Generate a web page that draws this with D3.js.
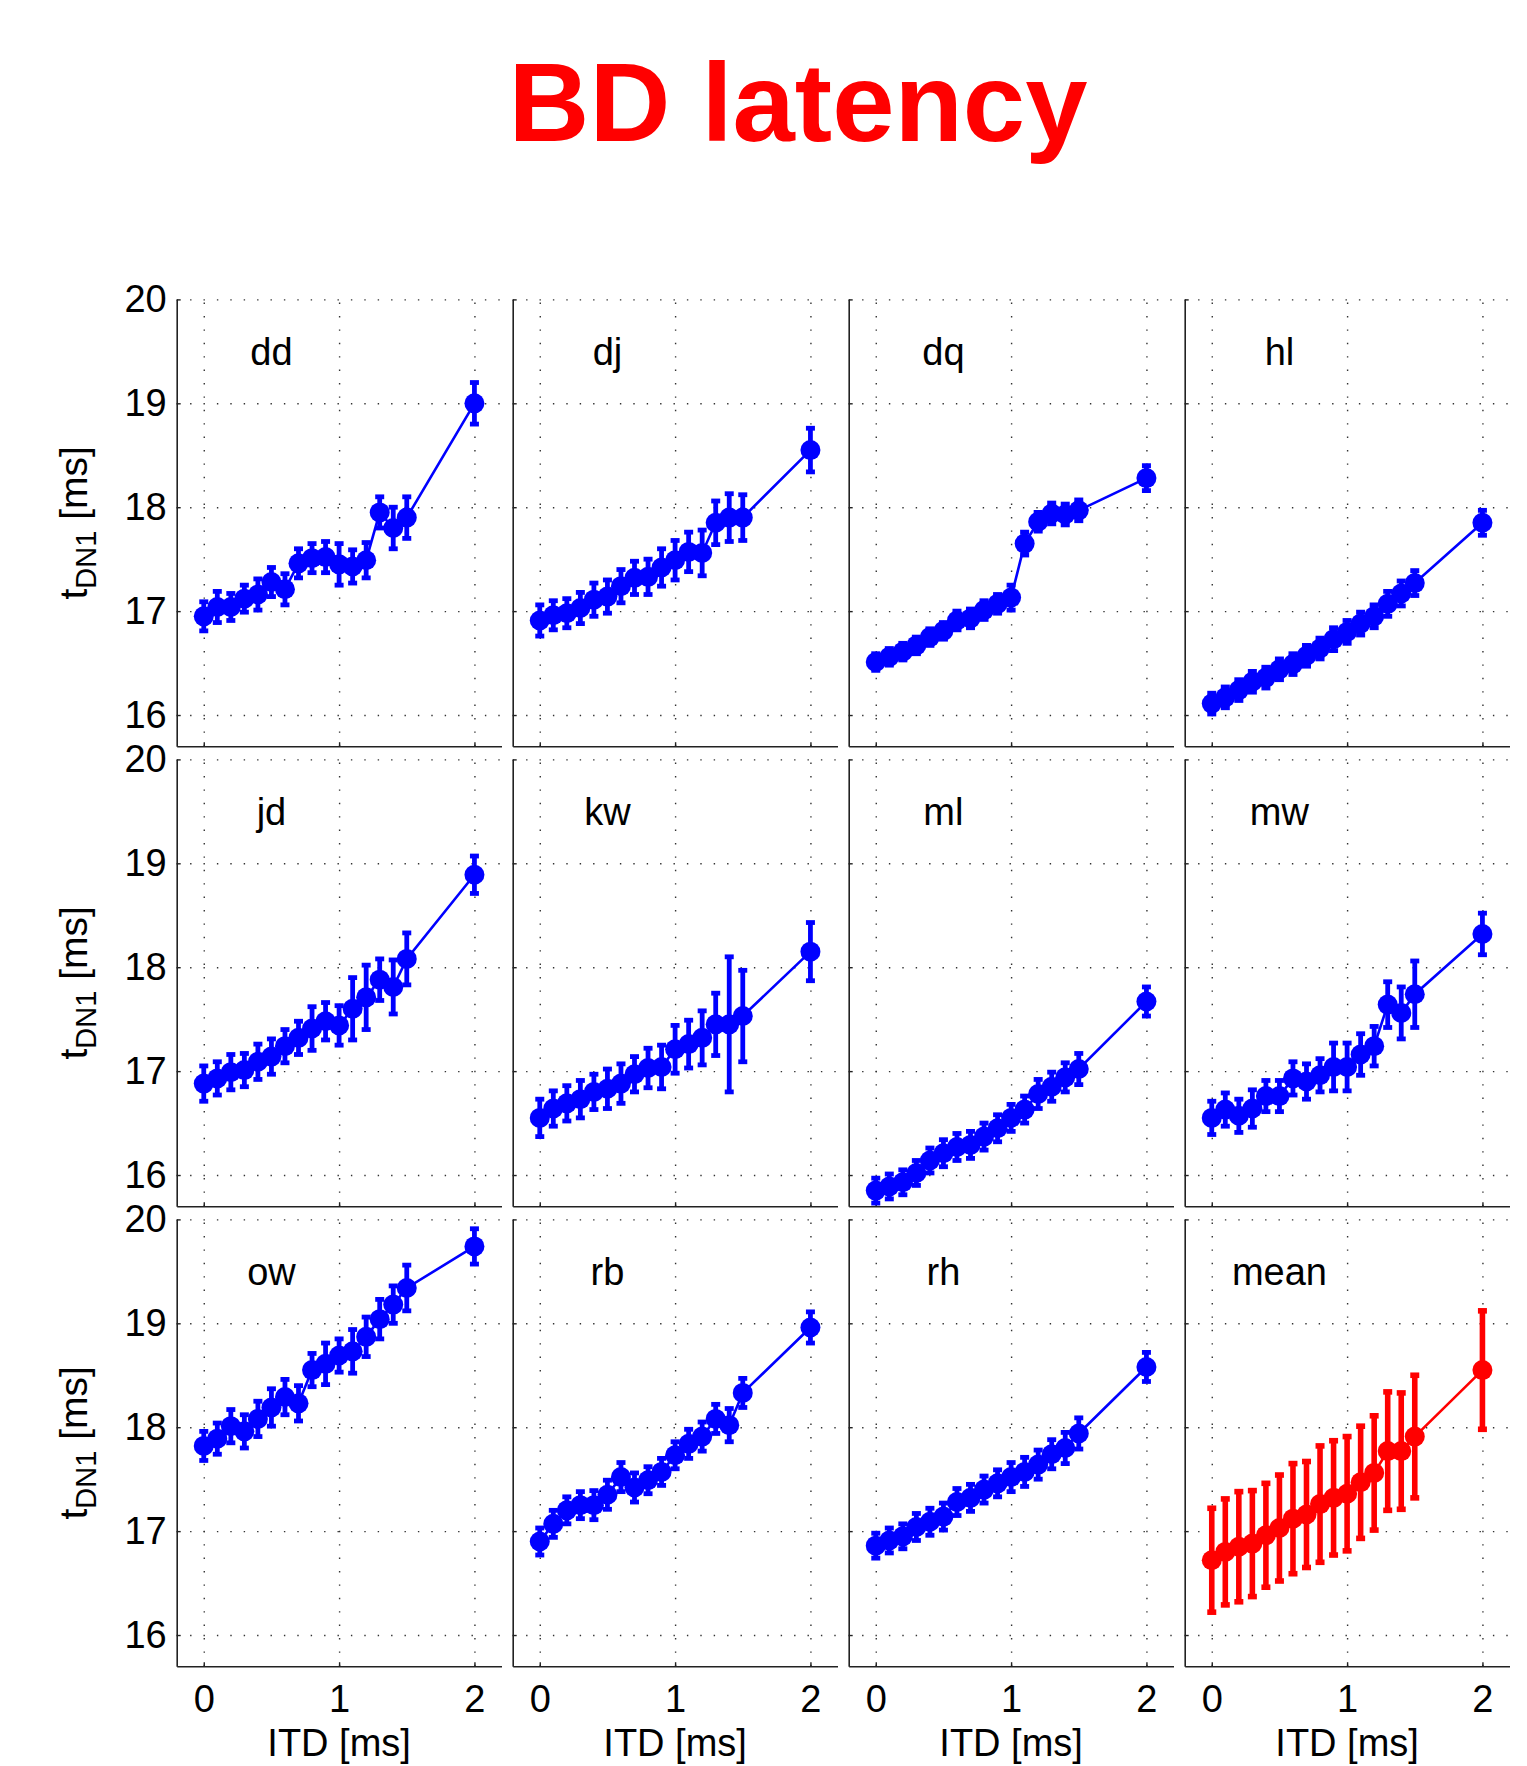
<!DOCTYPE html>
<html>
<head>
<meta charset="utf-8">
<script src="https://cdn.jsdelivr.net/npm/d3@7"></script>
<style>
body { margin: 0; background: #fff; }
text { font-family: "Liberation Sans", Arial, Helvetica, sans-serif; }
</style>
</head>
<body>
<svg id="fig" width="1527" height="1766"></svg>
<script>
// ITD values (ms)
var itd = [0, 0.1, 0.2, 0.3, 0.4, 0.5, 0.6, 0.7, 0.8, 0.9, 1.0, 1.1, 1.2, 1.3, 1.4, 1.5, 2.0];

var subjects = ["dd", "dj", "dq", "hl", "jd", "kw", "ml", "mw", "ow", "rb", "rh", "mean"];

var xTicks = [0, 1, 2];
var yTicks = [16, 17, 18, 19, 20];

// latency of DN1 (ms) and error bar half-length, one pair per subject
var dd = [16.95, 17.04, 17.04, 17.12, 17.16, 17.28, 17.21, 17.46, 17.51, 17.52, 17.45, 17.43, 17.49, 17.95, 17.80, 17.90, 19.00];
var dd_err = [0.14, 0.15, 0.13, 0.13, 0.15, 0.14, 0.15, 0.14, 0.14, 0.15, 0.20, 0.16, 0.17, 0.15, 0.20, 0.20, 0.20];

var dj = [16.91, 16.96, 16.98, 17.03, 17.11, 17.14, 17.24, 17.32, 17.33, 17.42, 17.49, 17.57, 17.56, 17.85, 17.90, 17.90, 18.55];
var dj_err = [0.15, 0.14, 0.14, 0.15, 0.16, 0.16, 0.16, 0.16, 0.17, 0.18, 0.19, 0.19, 0.22, 0.21, 0.23, 0.22, 0.21];

var dq = [16.51, 16.56, 16.61, 16.67, 16.75, 16.81, 16.91, 16.93, 17.01, 17.07, 17.13, 17.65, 17.86, 17.94, 17.93, 17.97, 18.28];
var dq_err = [0.08, 0.08, 0.08, 0.08, 0.08, 0.08, 0.09, 0.09, 0.09, 0.09, 0.12, 0.11, 0.09, 0.10, 0.10, 0.10, 0.12];

var hl = [16.11, 16.17, 16.24, 16.32, 16.36, 16.44, 16.49, 16.57, 16.64, 16.73, 16.80, 16.88, 16.95, 17.07, 17.17, 17.27, 17.85];
var hl_err = [0.10, 0.10, 0.10, 0.10, 0.10, 0.10, 0.10, 0.10, 0.10, 0.11, 0.11, 0.11, 0.11, 0.12, 0.12, 0.12, 0.12];

var jd = [16.88, 16.93, 16.99, 17.01, 17.09, 17.14, 17.24, 17.32, 17.41, 17.48, 17.44, 17.60, 17.71, 17.88, 17.81, 18.08, 18.89];
var jd_err = [0.17, 0.16, 0.17, 0.16, 0.17, 0.17, 0.16, 0.16, 0.21, 0.18, 0.19, 0.30, 0.31, 0.20, 0.26, 0.25, 0.18];

var kw = [16.55, 16.64, 16.69, 16.73, 16.80, 16.83, 16.88, 16.97, 17.03, 17.04, 17.21, 17.26, 17.32, 17.45, 17.45, 17.53, 18.15];
var kw_err = [0.18, 0.17, 0.17, 0.18, 0.17, 0.19, 0.19, 0.17, 0.19, 0.21, 0.23, 0.23, 0.26, 0.30, 0.65, 0.44, 0.28];

var ml = [15.85, 15.89, 15.93, 16.02, 16.14, 16.21, 16.27, 16.29, 16.37, 16.45, 16.55, 16.63, 16.78, 16.85, 16.94, 17.02, 17.67];
var ml_err = [0.12, 0.12, 0.12, 0.12, 0.12, 0.13, 0.13, 0.13, 0.13, 0.13, 0.13, 0.13, 0.14, 0.14, 0.14, 0.15, 0.14];

var mw = [16.55, 16.63, 16.57, 16.64, 16.76, 16.76, 16.93, 16.90, 16.96, 17.04, 17.04, 17.16, 17.24, 17.64, 17.56, 17.74, 18.32];
var mw_err = [0.16, 0.16, 0.16, 0.18, 0.15, 0.15, 0.16, 0.17, 0.16, 0.23, 0.23, 0.20, 0.19, 0.22, 0.25, 0.32, 0.20];

var ow = [17.82, 17.89, 18.01, 17.96, 18.08, 18.19, 18.29, 18.23, 18.55, 18.61, 18.69, 18.73, 18.87, 19.04, 19.18, 19.34, 19.74];
var ow_err = [0.14, 0.15, 0.16, 0.16, 0.17, 0.18, 0.17, 0.17, 0.16, 0.20, 0.16, 0.21, 0.19, 0.19, 0.18, 0.22, 0.17];

var rb = [16.90, 17.07, 17.20, 17.25, 17.25, 17.35, 17.52, 17.42, 17.49, 17.57, 17.73, 17.84, 17.91, 18.08, 18.02, 18.33, 18.96];
var rb_err = [0.13, 0.13, 0.13, 0.13, 0.14, 0.14, 0.14, 0.14, 0.13, 0.13, 0.13, 0.14, 0.14, 0.14, 0.16, 0.14, 0.15];

var rh = [16.86, 16.91, 16.95, 17.04, 17.09, 17.14, 17.28, 17.32, 17.40, 17.46, 17.52, 17.57, 17.64, 17.74, 17.80, 17.94, 18.58];
var rh_err = [0.12, 0.12, 0.12, 0.13, 0.13, 0.13, 0.13, 0.13, 0.13, 0.13, 0.14, 0.14, 0.14, 0.14, 0.15, 0.15, 0.14];

var grandMean = [16.72, 16.80, 16.85, 16.88, 16.96, 17.03, 17.12, 17.16, 17.26, 17.32, 17.36, 17.47, 17.56, 17.77, 17.77, 17.91, 18.55];
var grandMean_err = [0.50, 0.51, 0.53, 0.51, 0.50, 0.51, 0.53, 0.51, 0.56, 0.55, 0.55, 0.54, 0.55, 0.57, 0.56, 0.59, 0.57];

var values = [dd, dj, dq, hl, jd, kw, ml, mw, ow, rb, rh, grandMean];
var errors = [dd_err, dj_err, dq_err, hl_err, jd_err, kw_err, ml_err, mw_err, ow_err, rb_err, rh_err, grandMean_err];

var svg = d3.select("#fig"),
    layout = { left: 176.7, top: 299.4, dx: 336, dy: 460 },
    width = 324.8,
    height = 446.8,
    axisColor = "#222",
    fontSize = 38;

var x = d3.scaleLinear().domain([-0.2, 2.2]).range([0, width]),
    y = d3.scaleLinear().domain([15.7, 20]).range([height, 0]);

svg.append("rect")
    .attr("width", 1527)
    .attr("height", 1766)
    .attr("fill", "#fff");

svg.append("text")
    .attr("x", 798)
    .attr("y", 141)
    .attr("text-anchor", "middle")
    .attr("font-size", 112)
    .attr("font-weight", "bold")
    .attr("fill", "#ff0000")
    .text("BD latency");

var line = d3.line()
    .x(function(d) { return x(d[0]); })
    .y(function(d) { return y(d[1]); });

function drawPanel(i) {
    var col = i % 4,
        row = Math.floor(i / 4),
        isMean = subjects[i] === "mean",
        color = isMean ? "#ff0000" : "#0000ff";

    var g = svg.append("g")
        .attr("class", "panel")
        .attr("transform", "translate(" + (layout.left + col * layout.dx) + "," + (layout.top + row * layout.dy) + ")");

    // dotted grid
    g.append("g")
        .attr("class", "grid")
        .call(d3.axisLeft(y).tickValues(yTicks).tickSize(-width).tickFormat(""))
        .call(function(s) { s.select(".domain").remove(); });
    g.append("g")
        .attr("class", "grid")
        .attr("transform", "translate(0," + height + ")")
        .call(d3.axisBottom(x).tickValues(xTicks).tickSize(-height).tickFormat(""))
        .call(function(s) { s.select(".domain").remove(); });
    g.selectAll(".grid line")
        .attr("stroke", "#333")
        .attr("stroke-width", 1.4)
        .attr("stroke-dasharray", "1.4,12");

    // axes, ticks inside
    var yAxis = d3.axisLeft(y).tickValues(yTicks).tickSize(-4).tickSizeOuter(0).tickPadding(10).tickFormat(d3.format("d"));
    var xAxis = d3.axisBottom(x).tickValues(xTicks).tickSize(-4).tickSizeOuter(0).tickPadding(19).tickFormat(d3.format("d"));
    if (col > 0) yAxis.tickFormat("");
    if (row < 2) xAxis.tickFormat("");

    var ya = g.append("g").attr("class", "axis").call(yAxis);
    var xa = g.append("g").attr("class", "axis")
        .attr("transform", "translate(0," + height + ")")
        .call(xAxis);
    [ya, xa].forEach(function(a) {
        a.select(".domain").attr("stroke", axisColor).attr("stroke-width", 1.6);
        a.selectAll(".tick line").attr("stroke", axisColor).attr("stroke-width", 1.4);
        a.selectAll("text")
            .attr("font-size", fontSize)
            .attr("font-family", "'Liberation Sans', Arial, Helvetica, sans-serif")
            .attr("fill", "#000");
    });

    // subject label
    g.append("text")
        .attr("x", x(0.5))
        .attr("y", y(19.37))
        .attr("text-anchor", "middle")
        .attr("font-size", fontSize)
        .attr("fill", "#000")
        .text(subjects[i]);

    var pts = itd.map(function(t, k) { return [t, values[i][k], errors[i][k]]; });

    g.append("path")
        .datum(pts)
        .attr("fill", "none")
        .attr("stroke", color)
        .attr("stroke-width", 2.6)
        .attr("d", line);

    var eb = g.selectAll(".eb")
        .data(pts)
        .enter().append("g")
        .attr("class", "eb")
        .attr("stroke", color)
        .attr("stroke-width", isMean ? 5.6 : 4.8);
    eb.append("line")
        .attr("x1", function(d) { return x(d[0]); })
        .attr("x2", function(d) { return x(d[0]); })
        .attr("y1", function(d) { return y(d[1] - d[2]); })
        .attr("y2", function(d) { return y(d[1] + d[2]); });
    eb.append("line")
        .attr("x1", function(d) { return x(d[0]) - 4.5; })
        .attr("x2", function(d) { return x(d[0]) + 4.5; })
        .attr("y1", function(d) { return y(d[1] - d[2]); })
        .attr("y2", function(d) { return y(d[1] - d[2]); });
    eb.append("line")
        .attr("x1", function(d) { return x(d[0]) - 4.5; })
        .attr("x2", function(d) { return x(d[0]) + 4.5; })
        .attr("y1", function(d) { return y(d[1] + d[2]); })
        .attr("y2", function(d) { return y(d[1] + d[2]); });

    g.selectAll(".dot")
        .data(pts)
        .enter().append("circle")
        .attr("class", "dot")
        .attr("cx", function(d) { return x(d[0]); })
        .attr("cy", function(d) { return y(d[1]); })
        .attr("r", 10)
        .attr("fill", color);

    // axis titles
    if (col === 0) {
        var yl = g.append("text")
            .attr("transform", "translate(-90," + (height / 2) + ") rotate(-90)")
            .attr("text-anchor", "middle")
            .attr("font-size", 39)
            .attr("fill", "#000");
        yl.append("tspan").text("t");
        yl.append("tspan").attr("font-size", 29).attr("dy", 9).text("DN1");
        yl.append("tspan").attr("dy", -9).text(" [ms]");
    }
    if (row === 2) {
        g.append("text")
            .attr("x", width / 2)
            .attr("y", height + 90)
            .attr("text-anchor", "middle")
            .attr("font-size", fontSize)
            .attr("fill", "#000")
            .text("ITD [ms]");
    }
}

subjects.forEach(function(s, i) { drawPanel(i); });
</script>
</body>
</html>
